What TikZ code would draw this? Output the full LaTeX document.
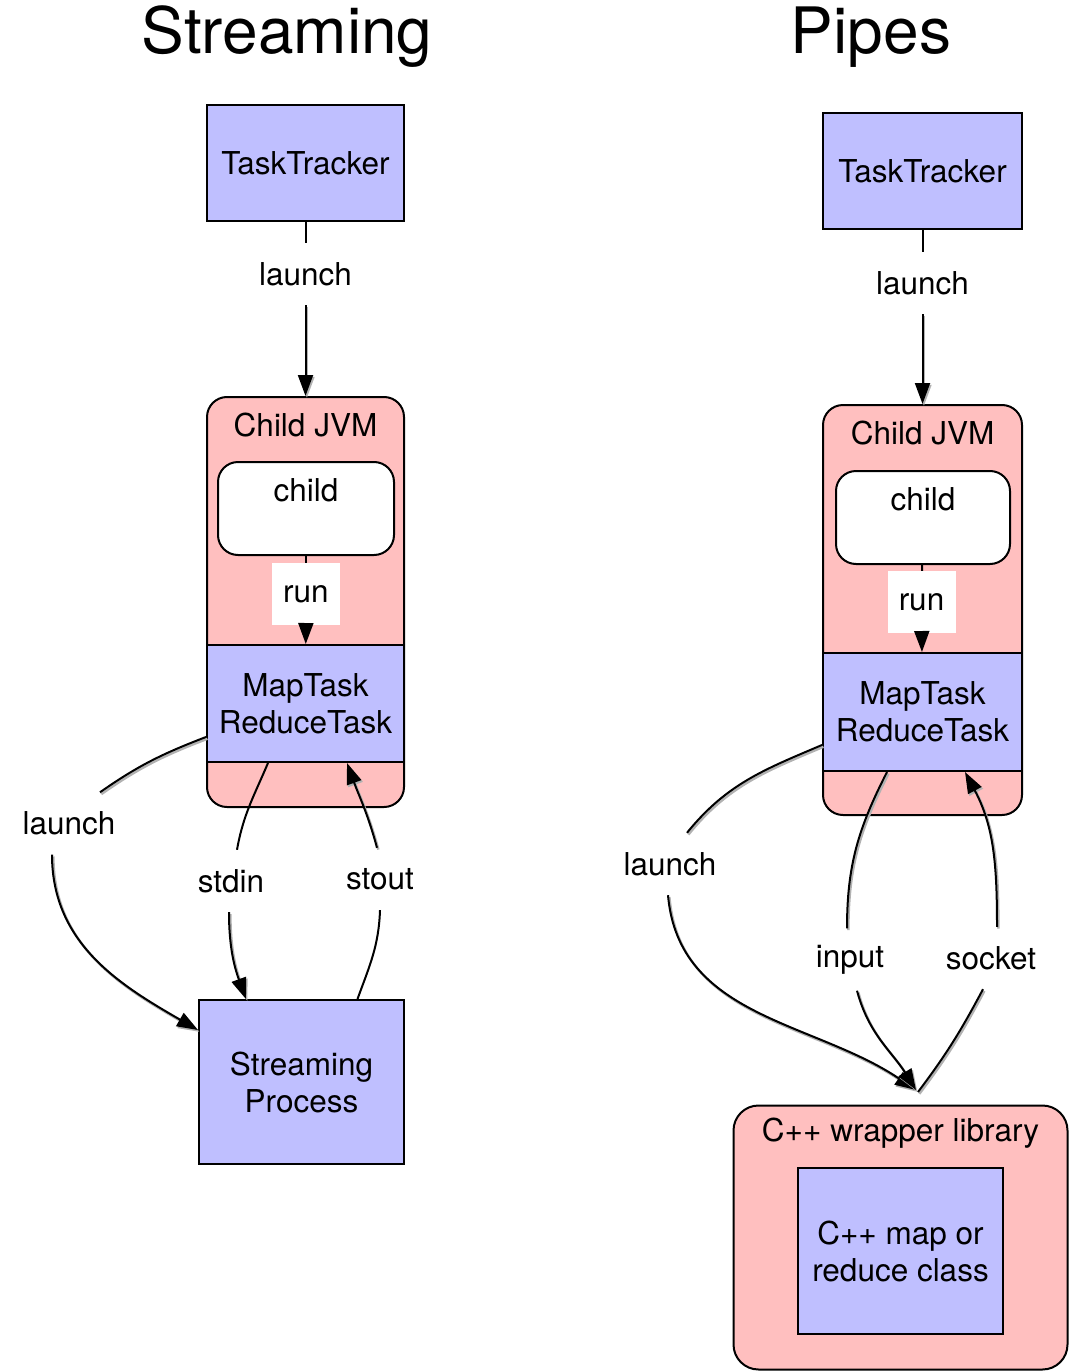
\documentclass[tikz,border=0pt]{standalone}
\usepackage{fontspec}
\setmainfont{TeX Gyre Heros}
\usetikzlibrary{arrows.meta}
\definecolor{taskblue}{RGB}{191,191,255}
\definecolor{jvmpink}{RGB}{255,191,191}

% a connector drawn over a soft grey copy of itself, nudged down and right
\newcommand\shadowlink[2]{%
  \begin{scope}[transform canvas={shift={(1.4pt,-1.8pt)}}]
    \draw[#1, draw=black!30, line width=2.4pt] #2;
  \end{scope}
  \draw[#1] #2;}

\begin{document}
\begin{tikzpicture}[x=1pt,y=1pt,
  every node/.style={font=\fontsize{31.5}{37}\selectfont},
  title/.style={font=\fontsize{64}{70}\selectfont, inner sep=0pt},
  taskbox/.style={draw, line width=2pt, fill=taskblue, align=center, inner sep=0pt},
  jvmbox/.style={draw, line width=2pt, fill=jvmpink, rounded corners=20pt, inner sep=0pt},
  childbox/.style={draw, line width=2pt, fill=white, rounded corners=20pt, inner sep=0pt},
  plain/.style={inner sep=0pt},
  edgelabel/.style={fill=white, inner sep=0pt, minimum height=62pt},
  conn/.style={line width=2pt},
  arr/.style={conn, -{Triangle[length=21pt,width=15pt]}}
]
\useasboundingbox (0,0) rectangle (1069,-1372);

% ---------------- Streaming ----------------
\node[title] (t1) at (287,-37) {Streaming};
\node[taskbox, minimum width=197pt, minimum height=116pt] (tt1) at (305.5,-163) {TaskTracker};
\node[jvmbox, minimum width=197pt, minimum height=410pt] (jvm1) at (305.5,-602) {};
\node[plain] (jvmt1) at (305.5,-425) {Child JVM};
\node[childbox, minimum width=176pt, minimum height=93pt] (ch1) at (306,-508.5) {};
\node[plain] (cht1) at (306,-490) {child};
\node[taskbox, minimum width=197pt, minimum height=117pt] (mt1) at (305.5,-703.5) {MapTask\\ReduceTask};
\node[taskbox, minimum width=205pt, minimum height=164pt] (sp1) at (301.5,-1082) {Streaming\\Process};

\node[edgelabel] (la1) at (305.5,-274) {launch};
\node[edgelabel, minimum width=68pt] (run1) at (306,-594) {run};
\node[edgelabel] (la3) at (69,-823.5) {launch};
\node[edgelabel] (la4) at (231,-881) {stdin};
\node[edgelabel] (la5) at (380,-879) {stout};

\draw[conn] (tt1) -- (la1);
\shadowlink{arr}{(la1) -- (jvm1)}
\draw[conn] (ch1) -- (run1);
\draw[arr] (run1) -- (mt1);

\shadowlink{conn}{([yshift=-33.5pt]mt1.west) to[out=201,in=35] ([xshift=31pt]la3.north)}
\shadowlink{arr}{([xshift=-17pt]la3.south) to[out=270,in=150] ([yshift=52pt]sp1.west)}

\draw[conn] ([xshift=-37.5pt]mt1.south) to[out=247,in=80] ([xshift=6pt]la4.north);
\shadowlink{arr}{([xshift=-2pt]la4.south) to[out=270,in=110] ([xshift=-55.5pt]sp1.north)}

\draw[conn] ([xshift=56pt]sp1.north) to[out=70,in=268] (la5.south);
\shadowlink{arr}{([xshift=-3pt]la5.north) to[out=105,in=290] ([xshift=41.5pt]mt1.south)}

% ---------------- Pipes ----------------
\node[title] (t2) at (871,-37) {Pipes};
\node[taskbox, minimum width=199pt, minimum height=116pt] (tt2) at (922.5,-171) {TaskTracker};
\node[jvmbox, minimum width=199pt, minimum height=410pt] (jvm2) at (922.5,-610) {};
\node[plain] (jvmt2) at (922.5,-433) {Child JVM};
\node[childbox, minimum width=174pt, minimum height=93pt] (ch2) at (923,-517.5) {};
\node[plain] (cht2) at (923,-499) {child};
\node[taskbox, minimum width=199pt, minimum height=118pt] (mt2) at (922.5,-712) {MapTask\\ReduceTask};

\node[jvmbox, rounded corners=25pt, minimum width=334pt, minimum height=264pt] (wr) at (900.5,-1237.5) {};
\node[plain] (wrt) at (900.5,-1133) {C++ wrapper library};
\node[taskbox, minimum width=205pt, minimum height=166pt] (cls) at (900.5,-1251) {C++ map or\\reduce class};

\node[edgelabel] (la2) at (922.5,-283) {launch};
\node[edgelabel, minimum width=68pt] (run2) at (921.5,-602) {run};
\node[edgelabel] (la6) at (670,-864) {launch};
\node[edgelabel] (la7) at (850,-959.5) {input};
\node[edgelabel] (la8) at (991,-958) {socket};
\coordinate (cj) at (916,-1090);

\draw[conn] (tt2) -- (la2);
\shadowlink{arr}{(la2) -- (jvm2)}
\draw[conn] (ch2) -- (run2);
\draw[arr] (run2) -- (mt2);

\shadowlink{conn}{([yshift=-33pt]mt2.west) to[out=203,in=51] ([xshift=17pt]la6.north)}
\shadowlink{arr}{([xshift=-2pt]la6.south) to[out=275,in=146] (cj)}

\shadowlink{conn}{([xshift=-35.5pt]mt2.south) to[out=243,in=90] ([xshift=-3pt]la7.north)}
\shadowlink{arr}{([xshift=7pt]la7.south) to[out=285,in=122] (cj)}

\shadowlink{conn}{([xshift=2pt,yshift=-2pt]cj) to[out=53,in=242] ([xshift=-8pt]la8.south)}
\shadowlink{arr}{([xshift=6pt]la8.north) to[out=90,in=298] ([xshift=42.5pt]mt2.south)}
\end{tikzpicture}
\end{document}
